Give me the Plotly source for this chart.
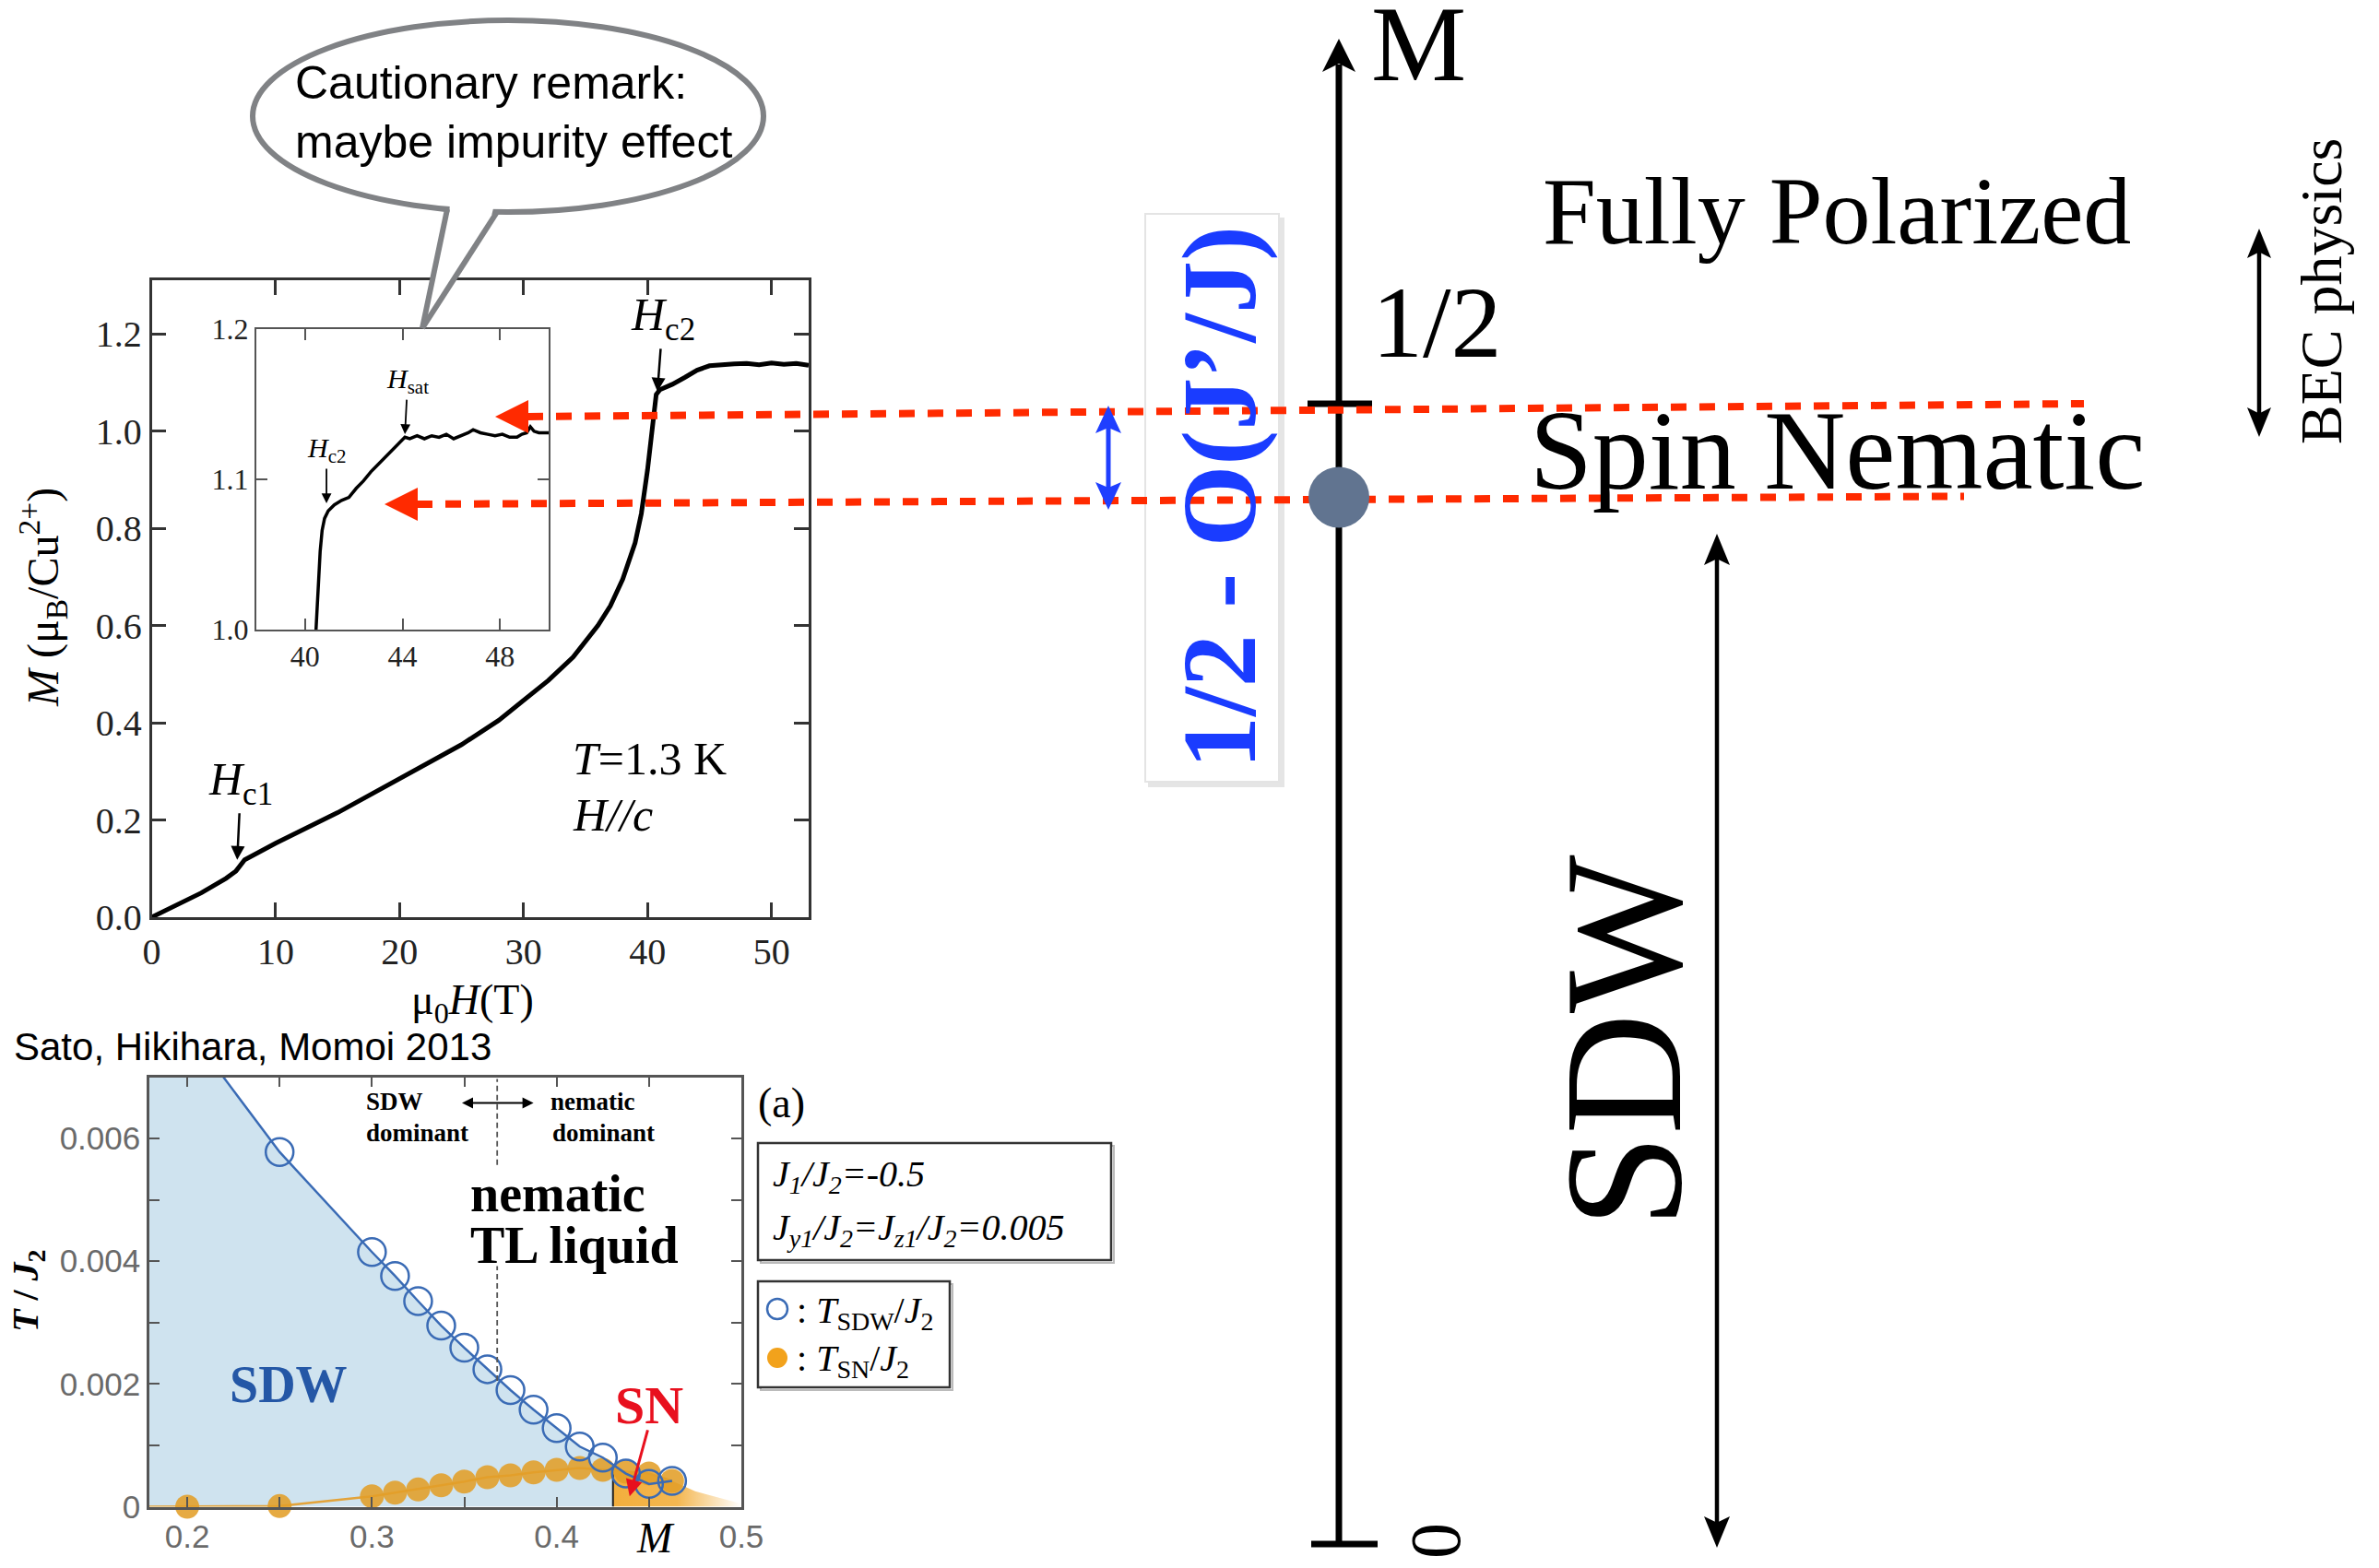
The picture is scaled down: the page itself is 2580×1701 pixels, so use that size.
import plotly.graph_objects as go

W, H = 2580, 1701
SERIF = "Liberation Serif, Times New Roman, Times, serif"
SANS = "Liberation Sans, Arial, Helvetica, sans-serif"

# ---------------- magnetization curve M(H), T = 1.3 K, H // c ----------------
field_T = [0, 2, 4, 6, 6.8, 7.5, 10, 15, 20, 25, 28, 30, 32, 34, 36, 37, 38, 39,
           39.5, 40, 40.4, 40.7, 41, 42, 43, 44, 45, 46, 47, 48, 49, 50, 51, 52, 53]
mag_muB = [0, 0.025, 0.05, 0.08, 0.095, 0.118, 0.152, 0.215, 0.285, 0.355, 0.405,
           0.445, 0.487, 0.535, 0.6, 0.64, 0.695, 0.77, 0.83, 0.92, 1.02, 1.075,
           1.085, 1.096, 1.11, 1.125, 1.134, 1.137, 1.138, 1.139, 1.136, 1.140,
           1.137, 1.139, 1.135]

# inset: close-up of the saturation region
inset_field_T = [40.45, 40.55, 40.62, 40.7, 40.8, 40.95, 41.2, 41.5, 41.8, 42.1, 42.4,
                 42.7, 43.0, 43.3, 43.6, 43.9, 44.1, 44.3, 44.6, 44.9, 45.2, 45.5,
                 45.8, 46.1, 46.4, 46.7, 46.9, 47.2, 47.5, 47.8, 48.1, 48.4, 48.7,
                 48.9, 49.1, 49.25, 49.4, 49.6, 49.8, 50.0]
inset_mag_muB = [1.000, 1.030, 1.052, 1.066, 1.074, 1.079, 1.083, 1.086, 1.088, 1.094,
                 1.099, 1.105, 1.110, 1.115, 1.120, 1.125, 1.128, 1.127, 1.129, 1.127,
                 1.129, 1.128, 1.130, 1.127, 1.129, 1.131, 1.133, 1.131, 1.130, 1.129,
                 1.130, 1.128, 1.128, 1.130, 1.131, 1.135, 1.132, 1.131, 1.131, 1.131]

# ---------------- phase diagram, J1/J2 = -0.5 ----------------
M_sdw = [0.25, 0.30, 0.3125, 0.325, 0.3375, 0.35, 0.3625, 0.375, 0.3875, 0.40,
         0.4125, 0.425, 0.4375, 0.45, 0.4625]
T_sdw = [0.00578, 0.00415, 0.00376, 0.00335, 0.00295, 0.00259, 0.00224, 0.0019,
         0.00158, 0.00128, 0.00098, 0.0008, 0.00054, 0.00037, 0.00042]
M_sn = [0.2, 0.25, 0.30, 0.3125, 0.325, 0.3375, 0.35, 0.3625, 0.375, 0.3875, 0.40,
        0.4125, 0.425, 0.4375, 0.45, 0.4625]
T_sn = [0.0, 0.00001, 0.00017, 0.00023, 0.00028, 0.00035, 0.00041, 0.00048, 0.00051,
        0.00056, 0.0006, 0.00063, 0.0006, 0.00057, 0.00054, 0.00042]
# where the SDW line meets the top of the frame, and the SDW/SN boundary
M_sdw_top, T_top = 0.2196, 0.0070
M_boundary, T_boundary = 0.4305, 0.00066
M_crossover = 0.3678

# ---------------- schematic magnetization axis ----------------
M_half = 0.5
M_nematic = 0.459
AX_X = 1452
Y_M0, Y_MHALF = 1675, 438


def y_of_m(m):
    return Y_M0 + (Y_MHALF - Y_M0) * m / 0.5


fig = go.Figure()

# main magnetization curve
fig.add_trace(go.Scatter(x=field_T, y=mag_muB, mode="lines",
                         line=dict(color="black", width=5),
                         xaxis="x", yaxis="y", hoverinfo="skip"))
# inset curve
fig.add_trace(go.Scatter(x=inset_field_T, y=inset_mag_muB, mode="lines",
                         line=dict(color="black", width=3.5),
                         xaxis="x2", yaxis="y2", hoverinfo="skip"))

# phase diagram: SDW region
sdw_fill_x = [0.1795, 0.1795, M_sdw_top] + M_sdw[:12] + [M_boundary, M_boundary]
sdw_fill_y = [0, T_top, T_top] + T_sdw[:12] + [T_boundary, 0]
fig.add_trace(go.Scatter(x=sdw_fill_x, y=sdw_fill_y, mode="lines", fill="toself",
                         fillcolor="#cfe3ef", line=dict(width=0),
                         xaxis="x3", yaxis="y3", hoverinfo="skip"))
# SN region with fading edge
sn_fill_x = [M_boundary, M_boundary] + M_sn[13:] + [0.475, 0.5, 0.5]
sn_fill_y = [0, T_boundary] + T_sn[13:] + [0.00025, 0.00005, 0]
fig.add_trace(go.Scatter(x=sn_fill_x, y=sn_fill_y, mode="lines", fill="toself",
                         fillgradient=dict(type="horizontal", start=M_boundary, stop=0.5,
                                           colorscale=[[0, "rgba(242,170,50,0.95)"],
                                                       [0.5, "rgba(242,170,50,0.85)"],
                                                       [1, "rgba(242,170,50,0)"]]),
                         line=dict(width=0), xaxis="x3", yaxis="y3", hoverinfo="skip"))
# boundary between SDW and SN
fig.add_trace(go.Scatter(x=[M_boundary, M_boundary], y=[0, T_boundary], mode="lines",
                         line=dict(color="#222", width=2),
                         xaxis="x3", yaxis="y3", hoverinfo="skip"))
# T_SN
fig.add_trace(go.Scatter(x=[0.1795] + M_sn, y=[0] + T_sn, mode="lines",
                         line=dict(color="#e3a33a", width=2.5),
                         xaxis="x3", yaxis="y3", hoverinfo="skip"))
fig.add_trace(go.Scatter(x=M_sn, y=T_sn, mode="markers",
                         marker=dict(size=26, color="rgba(226,158,40,0.88)", line=dict(width=0)),
                         cliponaxis=False, xaxis="x3", yaxis="y3", hoverinfo="skip"))
# T_SDW
fig.add_trace(go.Scatter(x=[M_sdw_top] + M_sdw, y=[T_top] + T_sdw, mode="lines",
                         line=dict(color="#3a6bb5", width=2.5),
                         xaxis="x3", yaxis="y3", hoverinfo="skip"))
fig.add_trace(go.Scatter(x=M_sdw, y=T_sdw, mode="markers",
                         marker=dict(size=30, symbol="circle-open", color="#3a6bb5",
                                     line=dict(width=2.5, color="#3a6bb5")),
                         xaxis="x3", yaxis="y3", hoverinfo="skip"))

# schematic: the nematic plateau point on the M axis
fig.add_trace(go.Scatter(x=[AX_X], y=[y_of_m(M_nematic)], mode="markers",
                         marker=dict(size=66, color="#617490", line=dict(width=0)),
                         xaxis="x4", yaxis="y4", hoverinfo="skip"))

# ---------------- shapes ----------------
shapes = []


def line(x0, y0, x1, y1, color, width, dash=None, layer="below"):
    d = dict(type="line", xref="x4", yref="y4", x0=x0, y0=y0, x1=x1, y1=y1,
             line=dict(color=color, width=width), layer=layer)
    if dash:
        d["line"]["dash"] = dash
    shapes.append(d)


def head(tx, ty, ux, uy, length, width, color, notch=0.0, layer="below"):
    bx, by = tx - ux * length, ty - uy * length
    nx, ny = -uy, ux
    pts = [(tx, ty), (bx + nx * width / 2, by + ny * width / 2)]
    if notch > 0:
        pts.append((tx - ux * length * (1 - notch), ty - uy * length * (1 - notch)))
    pts.append((bx - nx * width / 2, by - ny * width / 2))
    path = "M" + "L".join(f"{x:.1f},{y:.1f}" for x, y in pts) + "Z"
    shapes.append(dict(type="path", xref="x4", yref="y4", path=path,
                       fillcolor=color, line=dict(width=0), layer=layer))


def double_arrow(x, y_top, y_bot, color, width, hl, hw):
    line(x, y_top + hl * 0.7, x, y_bot - hl * 0.7, color, width)
    head(x, y_top, 0, -1, hl, hw, color, notch=0.2)
    head(x, y_bot, 0, 1, hl, hw, color, notch=0.2)


# highlighted box behind the blue label
shapes.append(dict(type="rect", xref="x4", yref="y4", x0=1245, x1=1393, y0=236, y1=854,
                   fillcolor="rgba(0,0,0,0.10)", line=dict(width=0), layer="below"))
shapes.append(dict(type="rect", xref="x4", yref="y4", x0=1242, x1=1387, y0=232, y1=848,
                   fillcolor="white", line=dict(color="#e4e4e4", width=2), layer="below"))

# M axis with arrow, ticks at 0 and 1/2
line(AX_X, Y_M0, AX_X, 70, "black", 7)
head(AX_X, 42, 0, -1, 36, 36, "black", notch=0.25)
line(AX_X - 34, y_of_m(M_half), AX_X + 36, y_of_m(M_half), "black", 7)
line(AX_X - 30, y_of_m(0), AX_X + 42, y_of_m(0), "black", 7)

# red dashed guides linking the plateaus to the data
RED = "#ff2a00"
line(572, 452, 2260, y_of_m(M_half), RED, 8, dash="17px,14px")
head(537, 452, -1, 0, 36, 36, RED)
line(452, 547, 2130, y_of_m(M_nematic) - 1, RED, 8, dash="17px,14px")
head(417, 547, -1, 0, 36, 36, RED)

# double arrows
double_arrow(1202, 440, 553, "#1f3fff", 5, 30, 28)
double_arrow(2450, 248, 474, "black", 4.5, 32, 26)
double_arrow(1862, 579, 1679, "black", 4.5, 34, 28)

# speech bubble
BUB = "#808285"
shapes.append(dict(type="circle", xref="x4", yref="y4", x0=274, x1=828, y0=22, y1=230,
                   fillcolor="white", line=dict(color=BUB, width=6), layer="above"))
shapes.append(dict(type="path", xref="x4", yref="y4",
                   path="M488,219L536,222L532,238L460,350L487,236Z",
                   fillcolor="white", line=dict(width=0), layer="above"))
line(485, 227, 458, 356, BUB, 6, layer="above")
line(539, 230, 458, 356, BUB, 6, layer="above")

# legend boxes of the phase diagram
for x0, x1, y0, y1 in [(822, 1205, 1240, 1367), (822, 1030, 1390, 1505)]:
    shapes.append(dict(type="rect", xref="x4", yref="y4", x0=x0 + 3, x1=x1 + 3, y0=y0 + 3,
                       y1=y1 + 3, line=dict(color="#bbbbbb", width=2), layer="below"))
    shapes.append(dict(type="rect", xref="x4", yref="y4", x0=x0, x1=x1, y0=y0, y1=y1,
                       fillcolor="white", line=dict(color="#333333", width=2.5), layer="below"))
shapes.append(dict(type="circle", xref="x4", yref="y4", x0=832, x1=854, y0=1409, y1=1431,
                   line=dict(color="#3a6bb5", width=2.5), layer="below"))
shapes.append(dict(type="circle", xref="x4", yref="y4", x0=832, x1=854, y0=1462, y1=1484,
                   fillcolor="#f2a21c", line=dict(width=0), layer="below"))

# crossover line in the phase diagram
for t0, t1 in [(0.00557, 0.00697), (0.00205, 0.00392)]:
    shapes.append(dict(type="line", xref="x3", yref="y3", x0=M_crossover, x1=M_crossover,
                       y0=t0, y1=t1, line=dict(color="#555", width=1.8, dash="6px,4px"),
                       layer="above"))

# ---------------- annotations ----------------
ann = []


def text(x, y, s, size, family=SERIF, color="black", angle=0, xanchor="center",
         xref="x4", yref="y4"):
    ann.append(dict(x=x, y=y, xref=xref, yref=yref, text=s, showarrow=False,
                    textangle=angle, xanchor=xanchor, yanchor="middle",
                    font=dict(family=family, size=size, color=color)))


def pointer(x, y, s, size, ax, ay, xref, yref, width=2.5, color="black"):
    ann.append(dict(x=x, y=y, xref=xref, yref=yref, text=s, showarrow=True,
                    arrowhead=2, arrowsize=1.2, arrowwidth=width, arrowcolor=color,
                    ax=ax, ay=ay, font=dict(family=SERIF, size=size, color="black")))


# speech bubble text
text(318, 90, "Cautionary remark:", 50, family=SANS, xanchor="left")
text(318, 154, "maybe impurity effect", 50, family=SANS, xanchor="left")

# magnetization curve labels
text(46, 648, "<i>M</i> (μ<sub>B</sub>/Cu<sup>2+</sup>)", 48, angle=-90)
text(512, 1088, "μ<sub>0</sub><i>H</i>(T)", 46)
pointer(6.9, 0.118, "<i>H</i><sub>c1</sub>", 50, 4, -84, "x", "y")
pointer(40.8, 1.081, "<i>H</i><sub>c2</sub>", 50, 6, -80, "x", "y")
text(33.8, 0.326, "<i>T</i>=1.3 K", 50, xanchor="left", xref="x", yref="y")
text(33.8, 0.210, "<i>H//c</i>", 50, xanchor="left", xref="x", yref="y")
pointer(44.1, 1.13, "<i>H</i><sub>sat</sub>", 30, 3, -58, "x2", "y2", width=1.8)
pointer(40.88, 1.084, "<i>H</i><sub>c2</sub>", 30, 0, -58, "x2", "y2", width=1.8)

# phase diagram labels
text(13, 1135, "Sato, Hikihara, Momoi 2013", 42, family=SANS, xanchor="left")
text(30, 1400, "<b><i>T</i> / <i>J</i><sub>2</sub></b>", 40, angle=-90)
text(711, 1668, "<i>M</i>", 46)
text(847, 1196, "(a)", 46)
text(395, 1195, "<b>SDW</b>", 27, xanchor="left")
text(395, 1229, "<b>dominant</b>", 27, xanchor="left")
text(595, 1195, "<b>nematic</b>", 27, xanchor="left")
text(597, 1229, "<b>dominant</b>", 27, xanchor="left")
text(508, 1295, "<b>nematic</b>", 56, xanchor="left")
text(508, 1351, "<b>TL liquid</b>", 56, xanchor="left")
text(313, 1502, "<b>SDW</b>", 56, color="#2457a6")
text(704, 1524, "<b>SN</b>", 58, color="#e8101e")
ann.append(dict(x=0.3875, y=0.00658, ax=0.348, ay=0.00658, xref="x3", yref="y3",
                axref="x3", ayref="y3", text="", showarrow=True, arrowhead=2,
                arrowside="end+start", arrowsize=1.2, arrowwidth=2, arrowcolor="black"))
ann.append(dict(x=0.4395, y=0.00017, ax=0.4495, ay=0.00127, xref="x3", yref="y3",
                axref="x3", ayref="y3", text="", showarrow=True, arrowhead=2,
                arrowsize=1.2, arrowwidth=3, arrowcolor="#e8101e"))
text(836, 1276, "<i>J<sub>1</sub>/J<sub>2</sub>=-0.5</i>", 40, xanchor="left")
text(836, 1334, "<i>J<sub>y1</sub>/J<sub>2</sub>=J<sub>z1</sub>/J<sub>2</sub>=0.005</i>",
     40, xanchor="left")
text(862, 1424, ": <i>T</i><sub>SDW</sub>/<i>J</i><sub>2</sub>", 40, xanchor="left")
text(862, 1476, ": <i>T</i><sub>SN</sub>/<i>J</i><sub>2</sub>", 40, xanchor="left")

# schematic labels
text(1538, 48, "M", 116)
text(1558, 350, "1/2", 110)
text(1992, 228, "Fully Polarized", 104)
text(1993, 488, "Spin Nematic", 122)
text(2517, 316, "BEC physics", 64, angle=-90)
text(1760, 1130, "SDW", 182, angle=-90)
text(1556, 1672, "0", 78, angle=-90)
text(1322, 540, "<b>1/2 - O(J’/J)</b>", 114, color="#1a3cff", angle=-90)

# ---------------- axes ----------------
def px(x):
    return x / W


def py(y):
    return 1 - y / H


frame = dict(showline=True, mirror="ticks", ticks="inside", showgrid=False,
             zeroline=False, fixedrange=True, automargin=False)

fig.update_layout(
    template="none",
    width=W, height=H, margin=dict(l=0, r=0, t=0, b=0, pad=0, autoexpand=False),
    paper_bgcolor="white", plot_bgcolor="rgba(0,0,0,0)",
    showlegend=False, hovermode=False,
    xaxis=dict(frame, domain=[px(164.5), px(877)], range=[0, 53], anchor="y",
               tick0=0, dtick=10, ticklen=16, tickwidth=2.5, linewidth=2.5,
               linecolor="#333", tickcolor="#333",
               tickfont=dict(family=SERIF, size=40, color="#222")),
    yaxis=dict(frame, domain=[py(995), py(304)], range=[0, 1.31], anchor="x",
               tick0=0, dtick=0.2, tickformat=".1f", ticklen=16, tickwidth=2.5,
               linewidth=2.5, linecolor="#333", tickcolor="#333",
               tickfont=dict(family=SERIF, size=40, color="#222")),
    xaxis2=dict(frame, domain=[px(278), px(595)], range=[38, 50], anchor="y2",
                tickvals=[40, 44, 48], ticklen=12, tickwidth=2, linewidth=2,
                linecolor="#555", tickcolor="#555",
                tickfont=dict(family=SERIF, size=32, color="#222")),
    yaxis2=dict(frame, domain=[py(683), py(357)], range=[1.0, 1.2], anchor="x2",
                tickvals=[1.0, 1.1, 1.2], tickformat=".1f", ticklen=12, tickwidth=2,
                linewidth=2, linecolor="#555", tickcolor="#555",
                tickfont=dict(family=SERIF, size=32, color="#222")),
    xaxis3=dict(frame, domain=[px(162), px(804)], range=[0.1795, 0.5], anchor="y3",
                tickvals=[0.2, 0.3, 0.4, 0.5], ticktext=["0.2", "0.3", "0.4", "0.5"],
                ticklen=11, tickwidth=2, linewidth=2.5, linecolor="#555", tickcolor="#555",
                minor=dict(tickvals=[0.25, 0.35, 0.45], ticks="inside", ticklen=11,
                           tickwidth=2, tickcolor="#555"),
                tickfont=dict(family=SANS, size=35, color="#6a6a6a")),
    yaxis3=dict(frame, domain=[py(1634.5), py(1168.5)], range=[0, 0.007], anchor="x3",
                tickvals=[0, 0.002, 0.004, 0.006], ticktext=["0", "0.002", "0.004", "0.006"],
                ticklen=11, tickwidth=2, linewidth=2.5, linecolor="#555", tickcolor="#555",
                minor=dict(tickvals=[0.001, 0.003, 0.005], ticks="inside", ticklen=11,
                           tickwidth=2, tickcolor="#555"),
                tickfont=dict(family=SANS, size=35, color="#6a6a6a")),
    xaxis4=dict(domain=[0, 1], range=[0, W], anchor="y4", visible=False, fixedrange=True,
                automargin=False),
    yaxis4=dict(domain=[0, 1], range=[H, 0], anchor="x4", visible=False, fixedrange=True,
                automargin=False),
    shapes=shapes,
    annotations=ann,
)

fig.write_html("out.html")
